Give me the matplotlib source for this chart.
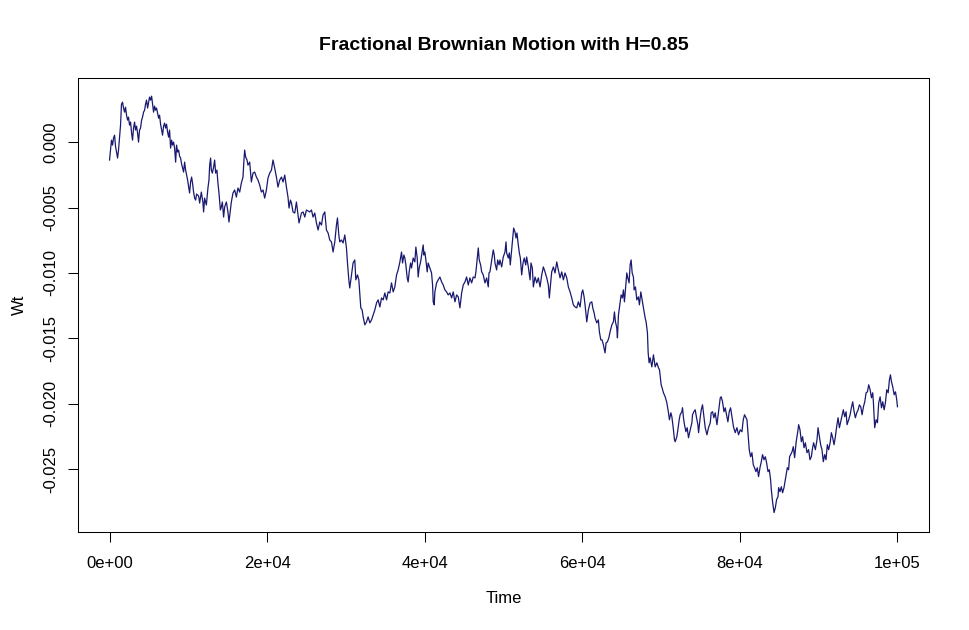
import matplotlib
matplotlib.use("Agg")
import matplotlib.pyplot as plt
import numpy as np

# fBm path, (time in thousands, Wt in 1e-3)
seg_a = [(0, -1.37), (0.13, -0.61), (0.25, 0.15), (0.38, -0.23), (0.51, 0.31), (0.64, 0.53),
         (0.76, -0.31), (0.89, -0.76), (1.02, -1.22), (1.14, -0.61), (1.27, 0.31), (1.40, 1.30),
         (1.52, 2.90), (1.65, 3.05), (1.78, 2.60), (1.91, 2.29), (2.03, 2.67), (2.16, 2.06),
         (2.29, 1.68), (2.41, 1.91), (2.54, 1.30), (2.67, 1.53), (2.80, 0.69), (2.92, 0.15),
         (3.05, 1.07), (3.18, 1.53), (3.30, 0.92), (3.43, 1.22), (3.56, 0.69), (3.68, 0.00),
         (3.81, 0.92), (3.94, 1.07), (4.07, 1.68), (4.19, 1.91), (4.32, 2.29), (4.45, 2.44),
         (4.57, 2.90), (4.70, 3.21), (4.83, 2.60), (4.96, 3.05), (5.08, 3.44), (5.21, 3.21),
         (5.34, 3.51), (5.46, 2.90), (5.59, 2.29), (5.72, 2.75), (5.84, 2.44), (5.97, 2.60),
         (6.10, 2.21), (6.23, 1.83), (6.35, 2.06), (6.48, 1.37), (6.61, 0.92), (6.73, 0.53),
         (6.86, 1.22), (6.99, 1.45), (7.12, 1.07), (7.24, 1.37), (7.37, 0.76), (7.50, 0.38),
         (7.62, 0.92), (7.75, -0.46), (7.88, 0.15), (8.00, -0.23), (8.13, 0.00), (8.26, -0.46),
         (8.39, -1.53), (8.51, -0.23), (8.64, -0.76), (8.77, -0.61), (8.89, -1.07), (9.02, -1.22),
         (9.15, -1.68), (9.28, -1.98), (9.40, -2.29), (9.53, -1.53), (9.66, -2.14), (9.78, -2.52),
         (9.91, -2.90), (10.04, -3.44), (10.16, -3.89), (10.29, -3.05), (10.42, -2.67),
         (10.55, -3.21), (10.67, -3.82), (10.80, -4.28), (10.93, -4.43), (11.05, -3.97),
         (11.31, -4.12)]

seg_b = [(11.44, -4.66), (11.65, -3.82), (11.85, -4.58), (11.94, -5.34), (12.07, -4.28),
         (12.29, -4.81), (12.49, -3.51), (12.62, -2.90), (12.71, -1.76), (12.83, -1.22),
         (12.92, -2.14), (13.05, -2.37), (13.21, -1.91), (13.34, -1.37), (13.47, -2.37),
         (13.63, -2.14), (13.76, -3.13), (13.89, -3.89), (14.07, -5.19), (14.19, -4.96),
         (14.32, -4.58), (14.48, -5.73), (14.61, -4.96), (14.83, -4.58), (15.03, -5.34),
         (15.16, -6.11), (15.34, -5.19), (15.46, -4.58), (15.67, -3.89), (15.88, -3.66),
         (16.10, -4.20), (16.30, -3.51), (16.52, -3.82), (16.73, -3.13), (16.94, -2.67),
         (17.06, -1.37), (17.15, -0.61), (17.28, -1.15), (17.45, -1.37), (17.57, -1.76),
         (17.79, -1.53), (18.00, -3.05), (18.21, -2.37), (18.42, -2.29), (18.64, -2.67),
         (18.84, -2.90), (19.06, -3.28), (19.27, -3.82), (19.48, -3.66), (19.69, -4.28),
         (19.91, -3.66), (20.11, -2.75), (20.33, -2.37), (20.55, -2.14), (20.75, -1.37),
         (20.96, -1.98), (21.18, -2.67), (21.38, -3.44), (21.60, -2.90), (21.82, -2.67),
         (22.02, -3.05), (22.24, -2.52), (22.45, -3.44), (22.65, -4.20), (22.78, -5.04),
         (22.96, -4.43), (23.09, -4.66), (23.29, -5.34), (23.51, -5.42), (23.72, -4.58),
         (23.93, -5.57), (24.05, -6.18)]

seg_c = [(24.36, -5.42), (24.57, -5.34), (24.78, -5.73), (24.99, -5.19), (25.41, -5.34),
         (25.63, -5.19), (25.83, -5.73), (26.05, -5.42), (26.26, -6.18), (26.47, -6.72),
         (26.68, -6.11), (26.90, -6.34), (27.10, -5.57), (27.32, -5.34), (27.53, -6.72),
         (27.74, -6.95), (27.95, -7.48), (28.17, -7.63), (28.37, -8.40), (28.59, -7.63),
         (28.80, -6.34), (28.93, -5.80), (29.10, -7.10), (29.22, -7.63), (29.44, -7.48),
         (29.64, -7.71), (29.86, -7.10), (30.07, -8.09), (30.20, -9.24), (30.37, -10.53),
         (30.49, -11.15), (30.71, -10.15), (30.91, -9.24), (31.13, -9.01), (31.26, -10.53),
         (31.47, -10.15), (31.64, -10.53), (31.77, -11.68), (31.89, -12.67), (32.06, -12.83),
         (32.19, -13.36), (32.40, -13.97), (32.62, -13.74), (32.82, -13.36), (33.04, -13.82),
         (33.25, -13.59), (33.46, -13.21), (33.67, -12.83), (33.89, -12.29), (34.09, -12.06),
         (34.31, -12.60), (34.52, -11.91), (34.73, -12.06), (34.94, -11.53), (35.16, -12.06),
         (35.36, -11.45)]

seg_d = [(35.58, -11.53), (35.79, -10.76), (36.00, -11.45), (36.21, -11.07), (36.43, -10.15),
         (36.63, -9.77), (36.85, -9.16), (37.06, -8.40), (37.19, -9.24), (37.36, -8.63),
         (37.48, -8.86), (37.61, -9.39), (37.78, -10.38), (37.90, -10.69), (38.03, -9.92),
         (38.21, -9.24), (38.33, -9.62), (38.54, -8.86), (38.75, -9.16), (38.88, -8.02),
         (39.05, -8.86), (39.17, -10.31), (39.30, -9.62), (39.48, -9.16), (39.61, -8.63),
         (39.81, -7.86), (39.90, -8.63), (40.02, -8.40), (40.15, -9.01), (40.32, -9.92),
         (40.44, -9.24), (40.66, -9.62), (40.87, -10.00), (41.00, -10.92), (41.08, -12.21),
         (41.21, -12.44), (41.29, -11.45), (41.51, -10.76), (41.71, -10.53), (41.93, -10.31),
         (42.15, -10.69), (42.35, -10.92), (42.57, -11.30), (42.78, -11.45), (42.98, -11.68),
         (43.20, -11.53), (43.42, -11.91), (43.62, -11.45), (43.84, -12.21), (44.05, -11.68),
         (44.26, -11.83), (44.47, -12.67), (44.69, -11.53), (44.89, -10.92), (45.11, -10.69),
         (45.32, -10.31), (45.53, -10.92), (45.74, -10.38), (45.96, -10.76), (46.16, -10.31),
         (46.38, -10.38), (46.50, -9.92), (46.67, -8.86), (46.80, -8.09), (46.92, -9.01),
         (47.10, -9.39), (47.23, -9.92), (47.43, -10.15), (47.65, -10.76)]

seg_e = [(47.86, -10.38), (48.07, -11.07), (48.16, -10.00), (48.28, -9.92), (48.50, -9.01),
         (48.70, -8.24), (48.83, -8.63), (48.92, -9.24), (49.13, -9.77), (49.26, -9.01),
         (49.43, -9.39), (49.55, -9.01), (49.77, -9.54), (49.97, -8.78), (50.19, -8.40),
         (50.32, -7.63), (50.40, -8.47), (50.61, -8.86), (50.74, -8.47), (50.86, -9.39),
         (51.04, -8.24), (51.17, -7.48), (51.29, -6.57), (51.46, -6.87), (51.59, -7.33),
         (51.71, -6.95), (51.88, -7.86), (52.01, -8.47), (52.14, -8.86), (52.31, -10.15),
         (52.48, -9.24), (52.64, -8.86), (52.82, -9.39), (52.94, -8.78), (53.15, -9.54),
         (53.37, -10.53), (53.49, -9.24), (53.66, -9.62), (53.79, -11.07), (54.00, -10.31),
         (54.22, -10.76), (54.42, -10.38), (54.64, -11.07), (54.85, -10.15), (55.06, -9.54),
         (55.27, -9.92), (55.49, -10.38), (55.69, -10.92), (55.82, -11.91), (55.94, -11.07),
         (56.12, -9.92), (56.33, -9.54), (56.54, -10.00), (56.76, -9.16), (56.96, -9.77),
         (57.18, -10.38), (57.39, -9.92), (57.60, -10.53), (57.81, -10.00), (58.03, -10.38),
         (58.23, -11.07), (58.45, -11.45), (58.66, -11.91), (58.87, -12.44), (59.08, -12.60),
         (59.30, -12.67), (59.50, -12.21), (59.72, -12.60)]

seg_f = [(59.93, -11.53), (60.06, -11.30), (60.23, -11.83), (60.35, -12.44), (60.57, -13.74),
         (60.77, -12.83), (60.99, -12.29), (61.21, -12.21), (61.33, -12.67), (61.50, -13.05),
         (61.62, -13.44), (61.84, -13.82), (62.04, -13.59), (62.17, -14.50), (62.35, -15.12),
         (62.51, -15.12), (62.68, -15.50), (62.89, -16.11), (63.02, -15.34), (63.19, -15.27),
         (63.37, -14.96), (63.53, -14.50), (63.75, -13.97), (63.95, -13.74), (64.08, -12.98),
         (64.21, -13.74), (64.38, -14.20), (64.46, -14.96), (64.59, -13.21), (64.80, -12.29),
         (64.93, -11.68), (65.09, -11.91), (65.22, -11.30), (65.35, -12.21), (65.53, -10.92),
         (65.65, -10.00), (65.78, -10.38), (65.94, -10.76), (66.07, -9.39), (66.20, -9.01),
         (66.33, -10.00), (66.49, -10.31), (66.58, -11.30), (66.75, -11.07), (66.92, -12.06),
         (67.12, -11.83), (67.25, -12.44), (67.43, -11.45), (67.59, -12.06), (67.76, -12.67),
         (67.98, -13.44), (68.10, -13.74), (68.27, -14.58), (68.36, -16.11), (68.48, -16.87),
         (68.61, -16.49), (68.83, -17.18), (69.03, -16.26), (69.25, -17.18), (69.46, -16.87),
         (69.67, -17.25), (69.80, -17.41)]

seg_g = [(70.01, -18.55), (70.13, -18.78), (70.30, -19.16), (70.52, -19.47), (70.73, -19.92),
         (70.94, -20.69), (71.06, -21.22), (71.24, -20.69), (71.37, -20.99), (71.57, -21.99),
         (71.70, -22.75), (71.79, -22.90), (72.00, -22.52), (72.13, -21.99), (72.30, -21.22),
         (72.42, -20.84), (72.64, -20.61), (72.72, -20.31), (72.84, -21.07), (72.97, -21.60),
         (73.15, -22.14), (73.31, -21.83), (73.48, -22.60), (73.70, -21.99), (73.91, -21.45),
         (73.99, -20.84), (74.16, -20.61), (74.33, -20.46), (74.50, -21.07), (74.67, -21.60),
         (74.76, -22.21), (74.93, -21.22), (75.10, -20.46), (75.26, -20.08), (75.44, -20.99),
         (75.60, -21.83), (75.82, -22.37), (76.02, -21.83), (76.24, -21.45), (76.36, -20.69),
         (76.53, -20.61), (76.70, -21.07), (76.87, -20.69), (77.09, -21.60), (77.29, -20.61),
         (77.51, -19.54), (77.63, -19.47), (77.80, -19.85), (77.98, -20.61), (78.14, -20.31),
         (78.31, -20.84), (78.48, -21.38), (78.65, -20.61), (78.82, -20.31), (78.99, -20.99),
         (79.19, -21.76), (79.41, -22.21), (79.63, -21.83), (79.83, -22.37), (80.05, -21.99),
         (80.26, -22.14), (80.43, -21.22), (80.59, -20.84), (80.77, -21.07), (80.90, -21.22),
         (81.02, -22.21)]

seg_h = [(81.19, -23.51), (81.36, -24.05), (81.53, -23.74), (81.70, -24.66), (81.86, -24.89),
         (82.04, -25.19), (82.21, -24.89), (82.37, -25.57), (82.55, -24.89), (82.72, -24.43),
         (82.88, -23.89), (83.06, -24.28), (83.23, -24.05), (83.39, -24.51), (83.57, -25.19),
         (83.73, -25.04), (83.90, -25.80), (83.99, -26.57), (84.16, -27.56), (84.34, -28.32),
         (84.50, -27.94), (84.66, -27.33), (84.84, -27.10), (84.92, -26.41), (85.09, -26.72),
         (85.26, -26.34), (85.42, -26.80), (85.60, -26.41), (85.77, -25.80), (85.93, -25.27),
         (86.02, -24.89), (86.18, -25.04), (86.31, -24.05), (86.62, -23.67), (86.78, -23.28),
         (86.95, -24.12), (87.13, -22.98), (87.25, -22.52), (87.38, -21.99), (87.46, -21.60),
         (87.63, -21.99), (87.80, -22.90), (87.96, -22.52), (88.14, -23.36), (88.31, -22.98),
         (88.52, -23.74), (88.72, -23.51), (88.90, -24.28), (89.07, -24.05), (89.23, -23.36),
         (89.36, -22.98), (89.58, -23.51), (89.79, -22.75), (89.92, -21.83), (90.09, -22.52)]

seg_i = [(90.25, -23.13), (90.42, -23.51), (90.59, -24.43), (90.76, -23.89), (90.93, -24.28),
         (91.10, -23.13), (91.27, -23.51), (91.48, -22.90), (91.61, -22.21), (91.78, -22.60),
         (91.95, -23.13), (92.12, -22.52), (92.28, -21.76), (92.46, -21.07), (92.63, -21.83),
         (92.79, -21.38), (92.97, -20.84), (93.13, -20.46), (93.30, -20.99), (93.48, -20.61),
         (93.60, -21.60), (93.81, -21.22), (93.99, -20.84), (94.15, -20.31), (94.32, -19.85),
         (94.50, -20.61), (94.66, -21.07), (94.83, -20.69), (95.01, -20.46), (95.17, -20.08),
         (95.34, -20.23), (95.51, -20.84), (95.68, -20.23), (95.85, -19.85), (96.02, -19.16),
         (96.19, -19.09), (96.35, -18.55), (96.53, -18.93), (96.70, -19.54), (96.86, -19.16),
         (96.95, -19.92), (97.04, -20.99), (97.11, -21.83), (97.29, -21.22), (97.46, -21.45),
         (97.62, -19.92), (97.80, -19.47), (97.97, -20.31), (98.13, -19.85), (98.31, -20.46),
         (98.47, -19.92), (98.64, -18.93), (98.82, -19.16), (98.98, -18.17), (99.11, -17.79),
         (99.24, -18.32), (99.40, -18.70), (99.58, -19.31), (99.75, -19.09), (99.91, -19.70),
         (100.0, -20.23)]

x_ticks = [0, 20000, 40000, 60000, 80000, 100000]
x_labels = ["0e+00", "2e+04", "4e+04", "6e+04", "8e+04", "1e+05"]
y_ticks = [0.0, -0.005, -0.010, -0.015, -0.020, -0.025]
y_labels = ["0.000", "-0.005", "-0.010", "-0.015", "-0.020", "-0.025"]

path = np.array(seg_a + seg_b + seg_c + seg_d + seg_e + seg_f + seg_g + seg_h + seg_i)
time = path[:, 0] * 1000
wt = path[:, 1] / 1000

plt.rcParams['font.family'] = ['Liberation Sans', 'DejaVu Sans']
plt.rcParams['axes.unicode_minus'] = False

fig = plt.figure(figsize=(9.69, 6.3), dpi=100)
ax = fig.add_axes([0.0805, 0.1556, 0.8782, 0.7206])
ax.plot(time, wt, color='#191970', linewidth=0.9)

ax.set_xlim(-4000, 104000)
ax.set_ylim(-0.0298, 0.0049)
ax.set_xticks(x_ticks)
ax.set_xticklabels(x_labels)
ax.set_yticks(y_ticks)
ax.set_yticklabels(y_labels, rotation=90, va='center')
ax.tick_params(axis='both', direction='out', length=7, width=0.75, labelsize=12)
ax.tick_params(axis='x', pad=10)
ax.tick_params(axis='y', pad=7)
for s in ax.spines.values():
    s.set_linewidth(0.75)

ax.set_title("Fractional Brownian Motion with H=0.85", fontsize=14, fontweight='bold', pad=20)
ax.set_xlabel("Time", fontsize=12, labelpad=15)
ax.set_ylabel("Wt", fontsize=12, labelpad=12)

fig.savefig("out.png", dpi=100)
